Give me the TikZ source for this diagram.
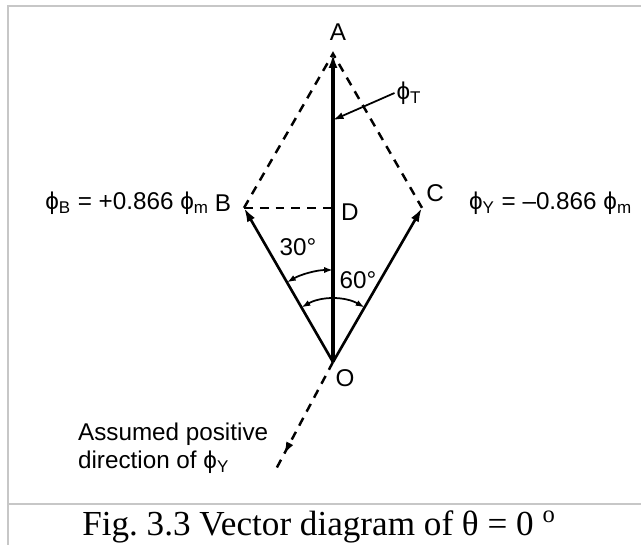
\documentclass[tikz,border=0pt]{standalone}
\usepackage{fontspec}
\setmainfont{Liberation Serif}
\setsansfont{Liberation Sans}
\usetikzlibrary{arrows.meta,positioning,calc,decorations.markings}

\tikzset{
  lbl/.style={font=\sffamily\fontsize{13.8}{16}\selectfont, inner sep=1pt},
  phasor/.style={line width=1.5pt, -{Latex[length=8pt,width=5pt]}},
  helper/.style={line width=1.4pt, dash pattern=on 5pt off 4pt},
  anglemark/.style={line width=1pt, {Latex[length=5pt,width=3.5pt]}-{Latex[length=5pt,width=3.5pt]}},
  framelines/.style={draw=black!22, line width=1pt}
}

\begin{document}
\begin{tikzpicture}
    % canvas and frame
    \useasboundingbox (0,0) rectangle (12.82,10.9);
    \fill[white] (0,0) rectangle (12.82,10.9);
    \draw[framelines] (12.82,10.78) -- (0.16,10.78) -- (0.16,0);
    \draw[framelines] (0.16,0.82) -- (12.82,0.82);

    % phasor points
    \coordinate (O) at (6.66,3.66);
    \coordinate (B) at ($(O)+(120:3.56)$);
    \coordinate (C) at ($(O)+(60:3.56)$);
    \coordinate (A) at ($(B)+(C)-(O)$);
    \coordinate (D) at ($(O)!(B)!(A)$);
    \coordinate (T) at ($(O)+(0,4.84)$);
    \coordinate (Yneg) at ($(O)+(242:2.46)$);

    % construction lines
    \draw[helper] (B) -- (A) -- (C);
    \draw[helper] (B) -- (D);
    \draw[helper, postaction={decorate},
      decoration={markings, mark=at position 0.85 with {\arrow{Latex[length=7pt,width=4.5pt]}}}]
      (O) -- (Yneg);

    % phasors
    \draw[phasor, line width=2.1pt] (O) -- (A);
    \draw[phasor] (O) -- (B);
    \draw[phasor] (O) -- (C);

    % angles
    \draw[anglemark] ([shift={(120:1.84)}]O) arc (120:90:1.84);
    \draw[anglemark] ([shift={(120:1.26)}]O) arc (120:60:1.26);

    % point labels
    \node[lbl] (lblA) at (6.76,10.26) {A};
    \node[lbl] (lblB) at (4.46,6.84) {B};
    \node[lbl] (lblC) at (8.70,7.04) {C};
    \node[lbl] (lblD) at (7.00,6.66) {D};
    \node[lbl] (lblO) at (6.90,3.34) {O};

    % flux labels
    \node[lbl, anchor=east] (phiB) at (4.22,6.84) {ϕ\textsubscript{B} = +0.866 ϕ\textsubscript{m}};
    \node[lbl, anchor=west] (phiY) at (9.34,6.84) {ϕ\textsubscript{Y} = –0.866 ϕ\textsubscript{m}};
    \node[lbl] (phiT) at (8.18,9.04) {ϕ\textsubscript{T}};
    \draw[line width=1pt, -{Latex[length=6pt,width=4pt]}] (phiT.west) -- (T);

    % angle labels
    \node[lbl] (ang30) at (5.96,5.96) {30°};
    \node[lbl] (ang60) at (7.16,5.30) {60°};

    % note
    \node[lbl, anchor=west, align=left] (note) at (1.52,1.94) {Assumed positive\\direction of ϕ\textsubscript{Y}};

    % caption
    \node[font=\fontsize{20}{24}\selectfont, inner sep=0pt] (cap) at (6.38,0.36)
      {Fig.\ 3.3 Vector diagram of θ = 0 \textsuperscript{o}};
\end{tikzpicture}
\end{document}
